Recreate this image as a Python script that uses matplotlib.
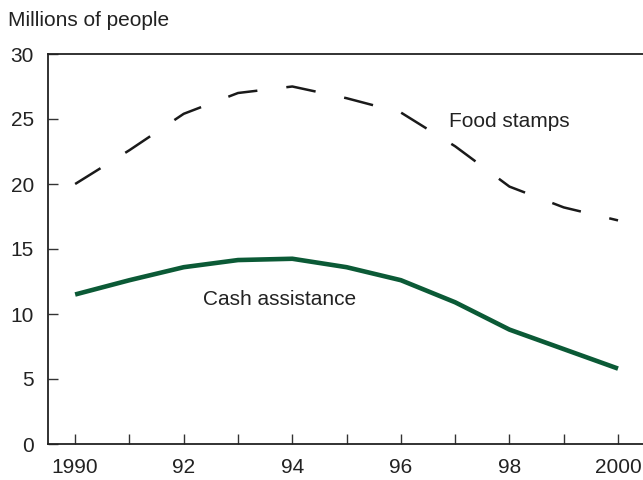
import matplotlib
matplotlib.use('Agg')
import matplotlib.pyplot as plt

years = [1990, 1991, 1992, 1993, 1994, 1995, 1996, 1997, 1998, 1999, 2000]
food_stamps = [20.0, 22.6, 25.4, 27.0, 27.5, 26.6, 25.5, 22.9, 19.8, 18.2, 17.2]
cash_assistance = [11.5, 12.6, 13.6, 14.15, 14.25, 13.6, 12.6, 10.9, 8.8, 7.3, 5.8]
xtick_labels = ['1990', '', '92', '', '94', '', '96', '', '98', '', '2000']

plt.rcParams['font.family'] = ['Liberation Sans', 'DejaVu Sans']
plt.rcParams['lines.scale_dashes'] = False

fig = plt.figure(figsize=(6.43, 4.8), dpi=100)
ax = fig.add_axes([48 / 643, 36 / 480, 1 - 48 / 643, 390 / 480])

ax.plot(years, food_stamps, color='#1a1a1a', lw=1.8, dashes=(21.5, 21))
ax.plot(years, cash_assistance, color='#0b5a36', lw=3.3, solid_capstyle='butt')

ax.set_xlim(1989.50, 2000.46)
ax.set_ylim(0, 30)
ax.set_yticks(range(0, 31, 5))
ax.set_xticks(years)
ax.set_xticklabels(xtick_labels)
ax.tick_params(direction='in', length=7, width=1, color='#333333',
               labelsize=15, labelcolor='#222222')
ax.tick_params(axis='x', pad=10)
ax.tick_params(axis='y', pad=10)
ax.spines['right'].set_visible(False)
for s in ['left', 'top', 'bottom']:
    ax.spines[s].set_color('#222222')
    ax.spines[s].set_linewidth(1.3)

ax.text(1998.0, 24.77, 'Food stamps', fontsize=15, color='#222222',
        ha='center', va='center')
ax.text(1993.76, 11.1, 'Cash assistance', fontsize=15, color='#222222',
        ha='center', va='center')
fig.text(8 / 643, 1 - 21 / 480, 'Millions of people', fontsize=15,
         color='#222222', ha='left', va='center')

fig.savefig('out.png', dpi=100)
